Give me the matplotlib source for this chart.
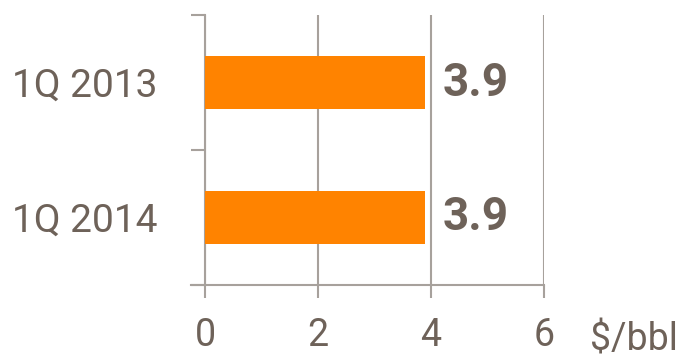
import matplotlib
matplotlib.use("Agg")
import matplotlib.pyplot as plt
from matplotlib.ticker import FixedLocator

categories = ["1Q 2013", "1Q 2014"]
values = [3.9, 3.9]
xticks = [0, 2, 4, 6]
unit_label = "$/bbl"

text_color = "#6E6259"
grid_color = "#A7A19C"
bar_color = "#FF8300"

plt.rcParams["font.family"] = ["Roboto", "DejaVu Sans"]

fig = plt.figure(figsize=(6.81, 3.58), dpi=100)
ax = fig.add_axes([205 / 681, 1 - 285 / 358, (544 - 205) / 681, (285 - 15) / 358])

ypos = list(range(len(categories)))
ax.barh(ypos, values, height=0.39, color=bar_color, zorder=3)

ax.set_xlim(0, 6)
ax.set_ylim(len(categories) - 0.5, -0.5)

ax.set_xticks(xticks)
ax.set_xticklabels([str(t) for t in xticks], fontsize=27, color=text_color)
ax.set_yticks(ypos)
ax.set_yticklabels(categories, fontsize=28, color=text_color)
ax.yaxis.set_minor_locator(FixedLocator([-0.5, 0.5, 1.5]))

ax.tick_params(axis="x", length=9, width=1.5, color=grid_color, pad=14)
ax.tick_params(axis="y", which="major", length=0, pad=34)
ax.tick_params(axis="y", which="minor", length=10, width=1.5, color=grid_color)

ax.grid(axis="x", color=grid_color, linewidth=1.5, zorder=0)
for side in ("top", "right"):
    ax.spines[side].set_visible(False)
for side in ("left", "bottom"):
    ax.spines[side].set_color(grid_color)
    ax.spines[side].set_linewidth(1.5)
ax.spines["bottom"].set_bounds(-0.25, 6)

for y, v in zip(ypos, values):
    ax.text(v + 0.3, y, f"{v:.1f}", va="center", ha="left", fontsize=33,
            fontweight="bold", color=text_color)

fig.text(590 / 681, 1 - 340 / 358, unit_label, fontsize=27, color=text_color,
         va="center", ha="left")

fig.savefig("out.png", dpi=100)
